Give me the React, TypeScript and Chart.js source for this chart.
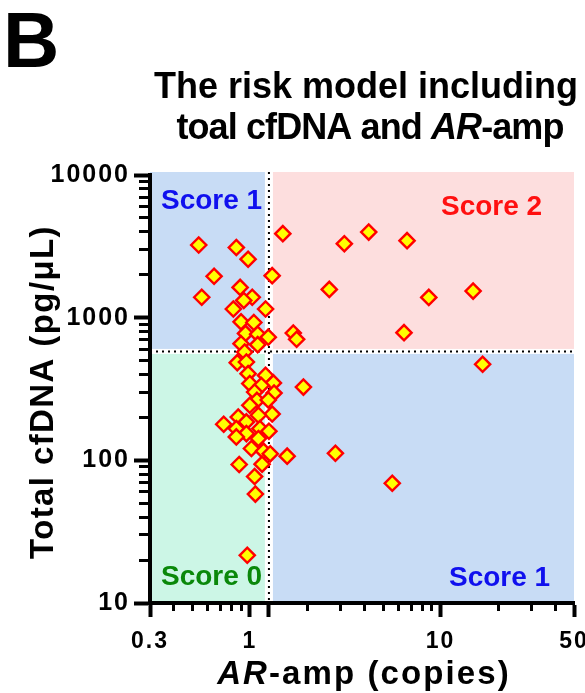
import React, { useEffect, useRef } from 'react';
import { Chart, registerables } from 'chart.js';

Chart.register(...registerables);

// ---- data ----
const AR_AMP = [
  0.54, 0.85, 0.98, 0.65, 0.89, 0.56, 1.03, 0.93, 0.82, 0.90, 1.05, 0.95, 1.10, 0.90, 1.10,
  1.21, 1.25,
  0.94, 0.86, 0.96, 0.98, 1.21, 1.33, 1.00, 1.15, 1.06, 1.34, 1.09, 1.25, 1.00, 1.31, 1.11,
  0.87, 0.96, 0.73, 0.85, 0.96, 1.13, 1.26, 0.85, 1.11, 1.02, 1.18, 1.28, 0.88, 1.16, 1.06,
  1.07, 0.97,
  1.49, 3.13, 4.2, 6.67, 1.31, 2.61, 8.67, 14.8, 1.69, 1.76, 6.43, 16.6, 1.91, 2.81, 1.57, 5.58,
];
const TOTAL_CFDNA = [
  3230, 3100, 2570, 1950, 1630, 1390, 1390, 1320, 1150, 935, 925, 776, 766, 657, 647,
  1150, 730,
  574, 484, 489, 405, 394, 349, 345, 335, 301, 296, 263, 265, 243, 211, 207,
  201, 186, 179, 167, 154, 167, 160, 146, 142, 121, 116, 111, 93.5, 94, 77,
  58, 21.6,
  3880, 3300, 3980, 3465, 1970, 1578, 1387, 1535, 780, 705, 785, 471, 326, 112, 107, 69,
];

const X_MIN = 0.3;
const X_MAX = 50;
const Y_MIN = 10;
const Y_MAX = 10000;
const X_CUT = 1.26;
const Y_CUT = 580;

const X_MAJOR_TICKS = [0.3, 1, 1.26, 10, 50];
const X_TICK_LABELS = ['0.3', '1', '', '10', '50'];
const X_MINOR_TICKS = [0.4, 0.5, 0.6, 0.7, 0.8, 0.9, 2, 3, 4, 5, 6, 7, 8, 9, 20, 30, 40];
const Y_MAJOR_TICKS = [10, 100, 1000, 10000];
const Y_TICK_LABELS = ['10', '100', '1000', '10000'];
const Y_MINOR_TICKS = [
  20, 30, 40, 50, 60, 70, 80, 90,
  200, 300, 400, 500, 600, 700, 800, 900,
  2000, 3000, 4000, 5000, 6000, 7000, 8000, 9000,
];

const PANEL_LETTER = 'B';
const TITLE_LINE_1 = 'The risk model including';
const TITLE_LINE_2_PRE = 'toal cfDNA and ';
const TITLE_LINE_2_ITALIC = 'AR';
const TITLE_LINE_2_POST = '-amp';
const X_TITLE_ITALIC = 'AR';
const X_TITLE_POST = '-amp (copies)';
const Y_TITLE = 'Total cfDNA (pg/\u03BCL)';
const SCORE_LABELS = ['Score 1', 'Score 2', 'Score 0', 'Score 1'];

// ---- styles ----
const FONT = '"Liberation Sans", Arial, Helvetica, sans-serif';
const BG_BLUE = '#C8DCF5';
const BG_PINK = '#FDDEDE';
const BG_GREEN = '#CCF6E6';
const TXT_BLUE = '#1010EE';
const TXT_RED = '#FF1010';
const TXT_GREEN = '#0A880A';

export default function App() {
  const ref = useRef<HTMLCanvasElement | null>(null);

  useEffect(() => {
    const canvas = ref.current;
    if (!canvas) return;

    const quadrantPlugin = {
      id: 'quadrants',
      beforeDraw(chart: any) {
        const { ctx, chartArea: a, scales } = chart;
        const cx = scales.x.getPixelForValue(X_CUT);
        const cy = scales.y.getPixelForValue(Y_CUT);
        const top = a.top - 3;
        const gx = 4;
        const gy = 2.5;
        ctx.save();
        ctx.fillStyle = BG_BLUE;
        ctx.fillRect(a.left, top, cx - gx - a.left, cy - gy - top);
        ctx.fillStyle = BG_PINK;
        ctx.fillRect(cx + gx, top, a.right - cx - gx, cy - gy - top);
        ctx.fillStyle = BG_GREEN;
        ctx.fillRect(a.left, cy + gy, cx - gx - a.left, a.bottom - cy - gy);
        ctx.fillStyle = BG_BLUE;
        ctx.fillRect(cx + gx, cy + gy, a.right - cx - gx, a.bottom - cy - gy);

        ctx.strokeStyle = '#000';
        ctx.lineWidth = 2;
        ctx.setLineDash([2, 4]);
        ctx.beginPath();
        ctx.moveTo(cx, top);
        ctx.lineTo(cx, a.bottom);
        ctx.stroke();
        ctx.beginPath();
        ctx.moveTo(a.left, cy);
        ctx.lineTo(a.right, cy);
        ctx.stroke();
        ctx.setLineDash([]);

        ctx.font = `bold 28px ${FONT}`;
        ctx.textAlign = 'left';
        ctx.textBaseline = 'alphabetic';
        ctx.fillStyle = TXT_BLUE;
        ctx.fillText(SCORE_LABELS[0], a.left + 11, a.top + 34);
        ctx.fillStyle = TXT_RED;
        ctx.fillText(SCORE_LABELS[1], a.right - 133, a.top + 40);
        ctx.fillStyle = TXT_GREEN;
        ctx.fillText(SCORE_LABELS[2], a.left + 11, a.bottom - 18);
        ctx.fillStyle = TXT_BLUE;
        ctx.fillText(SCORE_LABELS[3], a.right - 125, a.bottom - 17);
        ctx.restore();
        (ctx as any).letterSpacing = '2px';
      },
    };

    const titlePlugin = {
      id: 'titles',
      afterDraw(chart: any) {
        const { ctx } = chart;
        ctx.save();
        (ctx as any).letterSpacing = '0px';
        ctx.fillStyle = '#000';
        ctx.textBaseline = 'alphabetic';

        ctx.font = `bold 78px ${FONT}`;
        ctx.textAlign = 'left';
        ctx.fillText(PANEL_LETTER, 3, 67);

        ctx.font = `bold 36px ${FONT}`;
        ctx.textAlign = 'center';
        ctx.fillText(TITLE_LINE_1, 366, 98);

        (ctx as any).letterSpacing = '-0.9px';
        ctx.textAlign = 'left';
        const fB = `bold 36px ${FONT}`;
        const fI = `italic bold 36px ${FONT}`;
        ctx.font = fB;
        const w1 = ctx.measureText(TITLE_LINE_2_PRE).width;
        const w3 = ctx.measureText(TITLE_LINE_2_POST).width;
        ctx.font = fI;
        const w2 = ctx.measureText(TITLE_LINE_2_ITALIC).width;
        let x = 370 - (w1 + w2 + w3) / 2;
        ctx.font = fB;
        ctx.fillText(TITLE_LINE_2_PRE, x, 139);
        x += w1;
        ctx.font = fI;
        ctx.fillText(TITLE_LINE_2_ITALIC, x, 139);
        x += w2;
        ctx.font = fB;
        ctx.fillText(TITLE_LINE_2_POST, x, 139);

        (ctx as any).letterSpacing = '2.1px';
        const xf = `bold 33px ${FONT}`;
        const xfi = `italic bold 33px ${FONT}`;
        ctx.font = xfi;
        const a1 = ctx.measureText(X_TITLE_ITALIC).width;
        ctx.font = xf;
        const a2 = ctx.measureText(X_TITLE_POST).width;
        let xx = 364 - (a1 + a2) / 2;
        ctx.font = xfi;
        ctx.fillText(X_TITLE_ITALIC, xx, 684);
        xx += a1;
        ctx.font = xf;
        ctx.fillText(X_TITLE_POST, xx, 684);

        (ctx as any).letterSpacing = '1.4px';
        ctx.translate(52.5, 392);
        ctx.rotate(-Math.PI / 2);
        ctx.textAlign = 'center';
        ctx.font = `bold 33px ${FONT}`;
        ctx.fillText(Y_TITLE, 0, 0);
        ctx.restore();
      },
    };

    const xTickFont = { family: FONT, size: 23, weight: 'bold' as const };
    const yTickFont = { family: FONT, size: 25, weight: 'bold' as const };

    const chart = new Chart(canvas, {
      type: 'scatter',
      data: {
        datasets: [
          {
            data: AR_AMP.map((v, i) => ({ x: v, y: TOTAL_CFDNA[i] })),
            pointStyle: 'rectRot',
            pointRadius: 7.6,
            pointBorderWidth: 2.4,
            backgroundColor: '#FFFF00',
            borderColor: '#FF0000',
            pointBackgroundColor: '#FFFF00',
            pointBorderColor: '#FF0000',
          },
        ],
      },
      options: {
        animation: false,
        responsive: false,
        devicePixelRatio: 1,
        events: [],
        layout: { padding: { top: 175, right: 11, left: 0, bottom: 0 } },
        plugins: {
          legend: { display: false },
          tooltip: { enabled: false },
          title: { display: false },
        },
        scales: {
          x: {
            type: 'logarithmic',
            position: 'bottom',
            weight: 1,
            min: X_MIN,
            max: X_MAX,
            bounds: 'data',
            afterBuildTicks: (s: any) => {
              s.ticks = X_MAJOR_TICKS.map((v) => ({ value: v }));
            },
            afterFit: (s: any) => {
              s.height = 90;
              s.paddingLeft = 0;
              s.paddingRight = 0;
            },
            ticks: {
              autoSkip: false,
              maxRotation: 0,
              minRotation: 0,
              padding: 11,
              color: '#000',
              font: xTickFont,
              callback: (_v: any, i: number) => X_TICK_LABELS[i],
            },
            grid: {
              drawOnChartArea: false,
              drawTicks: true,
              tickLength: 14,
              tickWidth: 4,
              tickColor: '#000',
            },
            border: { display: true, color: '#000', width: 4 },
          },
          xMinor: {
            type: 'logarithmic',
            axis: 'x',
            position: 'bottom',
            weight: 0,
            min: X_MIN,
            max: X_MAX,
            bounds: 'data',
            afterBuildTicks: (s: any) => {
              s.ticks = X_MINOR_TICKS.map((v) => ({ value: v }));
            },
            afterFit: (s: any) => {
              s.height = 0;
              s.paddingLeft = 0;
              s.paddingRight = 0;
            },
            ticks: { display: false, autoSkip: false },
            grid: {
              drawOnChartArea: false,
              drawTicks: true,
              tickLength: 8,
              tickWidth: 3,
              tickColor: '#000',
            },
            border: { display: false },
          },
          y: {
            type: 'logarithmic',
            position: 'left',
            weight: 1,
            min: Y_MIN,
            max: Y_MAX,
            bounds: 'data',
            afterBuildTicks: (s: any) => {
              s.ticks = Y_MAJOR_TICKS.map((v) => ({ value: v }));
            },
            afterFit: (s: any) => {
              s.width = 150;
              s.paddingTop = 0;
              s.paddingBottom = 0;
            },
            ticks: {
              autoSkip: false,
              padding: 4,
              color: '#000',
              font: yTickFont,
              callback: (_v: any, i: number) => Y_TICK_LABELS[i],
            },
            grid: {
              drawOnChartArea: false,
              drawTicks: true,
              tickLength: 16,
              tickWidth: 4,
              tickColor: '#000',
            },
            border: { display: true, color: '#000', width: 4 },
          },
          yMinor: {
            type: 'logarithmic',
            axis: 'y',
            position: 'left',
            weight: 0,
            min: Y_MIN,
            max: Y_MAX,
            bounds: 'data',
            afterBuildTicks: (s: any) => {
              s.ticks = Y_MINOR_TICKS.map((v) => ({ value: v }));
            },
            afterFit: (s: any) => {
              s.width = 0;
              s.paddingTop = 0;
              s.paddingBottom = 0;
            },
            ticks: { display: false, autoSkip: false },
            grid: {
              drawOnChartArea: false,
              drawTicks: true,
              tickLength: 11,
              tickWidth: 3,
              tickColor: '#000',
            },
            border: { display: false },
          },
        },
      } as any,
      plugins: [quadrantPlugin, titlePlugin],
    });

    return () => {
      chart.destroy();
    };
  }, []);

  return (
    <div style={{ position: 'fixed', left: 0, top: 0, width: 585, height: 693, background: '#fff' }}>
      <canvas ref={ref} width={585} height={693} style={{ display: 'block', width: 585, height: 693 }} />
    </div>
  );
}
